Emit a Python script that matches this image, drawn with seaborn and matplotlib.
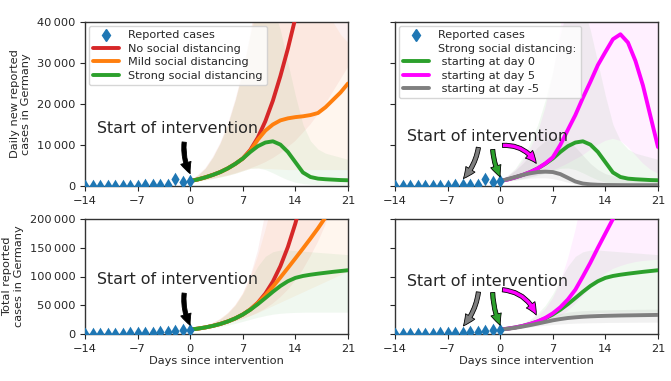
import numpy as np
import pandas as pd
import matplotlib
matplotlib.use("Agg")
import matplotlib.pyplot as plt
from matplotlib.ticker import FuncFormatter, FixedLocator
from matplotlib.lines import Line2D
import seaborn as sns

# ---------------- data ----------------
obs_days = list(range(-14, 1))
obs_daily = [10, 20, 30, 40, 50, 60, 80, 100, 130, 150, 200, 300, 1700, 1000, 1200]
obs_total = [150, 200, 260, 400, 530, 800, 1000, 1200, 1600, 2300, 3000, 3800, 5500, 6500, 7800]

model_days = list(range(0, 22))

# daily new cases (median)
green_daily = [1200, 1600, 2100, 2700, 3400, 4300, 5400, 6700, 8300, 9700, 10600, 10900,
               10100, 8300, 5800, 3300, 2200, 1800, 1650, 1550, 1450, 1400]
red_daily = [1200, 1600, 2100, 2700, 3400, 4300, 5400, 6700, 8800, 11800, 15800, 20800,
             26800, 33500, 41000, 50000, 60000, 72000, 85000, 100000, 118000, 138000]
orange_daily = [1200, 1600, 2100, 2700, 3400, 4300, 5400, 6700, 8600, 11300, 13500, 15000,
                16000, 16500, 16800, 17000, 17300, 17800, 19200, 21000, 22800, 25000]
magenta_daily = [1200, 1600, 2100, 2700, 3400, 4300, 5500, 7000, 10000, 13700, 17300, 21500,
                 25400, 29500, 32700, 35800, 37000, 35000, 30500, 24500, 17000, 9500]
gray_daily = [1200, 1700, 2200, 2700, 3100, 3400, 3500, 3400, 2900, 2000, 1100, 600,
              400, 300, 250, 230, 210, 200, 200, 200, 200, 200]

# daily credible intervals
red_daily_lo = [1000, 1200, 1500, 1800, 2200, 2600, 3100, 3700, 4300, 5000, 5800, 6800,
                8000, 9500, 11000, 13000, 15000, 17500, 20000, 23000, 26000, 29000]
red_daily_hi = [1400, 2600, 4300, 7000, 10500, 15000, 21000, 28000, 37000, 48000, 62000, 80000,
                100000, 120000, 140000, 160000, 180000, 200000, 220000, 240000, 260000, 280000]
orange_daily_lo = [1000, 1200, 1500, 1800, 2200, 2600, 3100, 3700, 4300, 4400, 4300, 4200,
                   4100, 4000, 4000, 4000, 4000, 4000, 4000, 4000, 4000, 4000]
orange_daily_hi = [1400, 2600, 4300, 7000, 10500, 15000, 21000, 28000, 37000, 48000, 55000, 58000,
                   60000, 60000, 58000, 55000, 52000, 48000, 44000, 40000, 37000, 35000]
green_daily_lo = [1000, 1200, 1500, 1800, 2200, 2600, 3100, 3700, 4300, 4400, 4000, 3200,
                  2300, 1500, 900, 600, 400, 300, 250, 200, 200, 200]
green_daily_hi = [1400, 2600, 4300, 7000, 10500, 15000, 21000, 28000, 37000, 44000, 46000, 44000,
                  38000, 30000, 22000, 15000, 11000, 9000, 8000, 7500, 7000, 6500]
magenta_daily_lo = [1000, 1200, 1500, 1800, 2200, 2600, 3100, 3800, 4600, 5500, 6500, 7500,
                    8800, 10000, 11000, 11500, 11000, 9500, 7500, 5500, 4000, 3000]
magenta_daily_hi = [1400, 2400, 3800, 6000, 9000, 13000, 19000, 27000, 38000, 50000, 60000, 70000,
                    80000, 90000, 95000, 95000, 95000, 95000, 95000, 95000, 95000, 95000]
gray_daily_lo = [1000, 1200, 1400, 1700, 1900, 2000, 2000, 1800, 1400, 900, 500, 250,
                 150, 100, 80, 70, 60, 60, 60, 60, 60, 60]
gray_daily_hi = [1400, 2400, 3800, 5500, 7500, 9500, 11000, 12000, 12000, 11000, 9500, 7500,
                 5500, 4000, 3000, 2500, 2000, 1800, 1600, 1500, 1400, 1400]

# total cases (median)
green_total = [7700, 9300, 11400, 14100, 17500, 21800, 27200, 33900, 42200, 51900, 62500, 73400,
               83500, 91800, 97600, 100900, 103100, 104900, 106500, 108100, 109500, 110900]
red_total = [7700, 9300, 11400, 14100, 17500, 21800, 27200, 33900, 42700, 54500, 70300, 91100,
             117900, 151400, 192400, 242400, 302400, 374400, 459400, 559400, 677400, 815400]
orange_total = [7700, 9300, 11400, 14100, 17500, 21800, 27200, 33900, 42500, 53800, 67300, 82300,
                98300, 114800, 131600, 148600, 165900, 183700, 202900, 223900, 246700, 271700]
magenta_total = [7700, 9300, 11400, 14100, 17500, 22000, 28000, 36000, 46500, 60000, 77000, 100000,
                 124000, 150000, 175000, 200000, 235000, 268000, 298000, 322000, 338000, 347000]
gray_total = [7700, 9000, 10800, 13000, 15500, 18200, 21000, 23800, 26000, 27800, 29000, 30000,
              30700, 31200, 31600, 31900, 32200, 32400, 32600, 32800, 33000, 33200]

# total credible intervals
red_total_lo = [7500, 9000, 10800, 13000, 15500, 18500, 22000, 26000, 31000, 37000, 44000, 53000,
                64000, 77000, 93000, 112000, 135000, 160000, 190000, 225000, 265000, 310000]
red_total_hi = [8000, 10500, 14000, 19000, 26000, 36000, 50000, 70000, 100000, 145000, 210000, 300000,
                400000, 500000, 600000, 700000, 800000, 900000, 1000000, 1100000, 1200000, 1300000]
orange_total_lo = [7500, 9000, 10800, 13000, 15500, 18500, 22000, 26000, 31000, 36000, 42000, 48000,
                   54000, 60000, 66000, 72000, 78000, 84000, 90000, 96000, 102000, 108000]
orange_total_hi = [8000, 10500, 14000, 19000, 26000, 36000, 50000, 70000, 98000, 135000, 180000, 230000,
                   280000, 330000, 380000, 430000, 480000, 530000, 580000, 630000, 680000, 730000]
green_total_lo = [7000, 8000, 9500, 11000, 13000, 15500, 18500, 22000, 25500, 29000, 32000, 34500,
                  36000, 37000, 37500, 37800, 38000, 38000, 38000, 38000, 38000, 38000]
green_total_hi = [8500, 10500, 14000, 19000, 26000, 36000, 50000, 70000, 95000, 118000, 135000, 143000,
                  146000, 146000, 145000, 144000, 143000, 142000, 141000, 140000, 139000, 138000]
magenta_total_lo = [7000, 8000, 9500, 11000, 13000, 15500, 19000, 24000, 31000, 40000, 52000, 66000,
                    80000, 94000, 105000, 113000, 118000, 122000, 125000, 127000, 128000, 129000]
magenta_total_hi = [8500, 10500, 13500, 17500, 23000, 31000, 43000, 62000, 90000, 130000, 180000, 240000,
                    310000, 390000, 470000, 550000, 630000, 700000, 760000, 810000, 850000, 880000]
gray_total_lo = [7000, 8000, 9300, 10800, 12300, 13800, 15200, 16500, 17500, 18300, 18900, 19300,
                 19600, 19800, 20000, 20100, 20200, 20300, 20400, 20500, 20600, 20700]
gray_total_hi = [8500, 10200, 12500, 15500, 19000, 23000, 27500, 32000, 35500, 38000, 39500, 40500,
                 41200, 41700, 42000, 42300, 42500, 42700, 42900, 43000, 43100, 43200]

xticks = [-14, -7, 0, 7, 14, 21]

C_BLUE = "#1f77b4"
C_RED = "#d62728"
C_ORANGE = "#ff7f0e"
C_GREEN = "#2ca02c"
C_MAG = "#ff00ff"
C_GRAY = "#7f7f7f"

# ---------------- figure ----------------
sns.set_style("ticks")
plt.rcParams["font.family"] = ["DejaVu Sans"]
plt.rcParams["axes.edgecolor"] = "#333333"

fig = plt.figure(figsize=(6.71, 3.81), dpi=100)
W, H = 671.0, 381.0


def add_ax(l, r, t, b):
    return fig.add_axes([l / W, 1 - b / H, (r - l) / W, (b - t) / H])


ax_tl = add_ax(85, 348, 22, 186)
ax_tr = add_ax(395, 658, 22, 186)
ax_bl = add_ax(85, 348, 219, 334)
ax_br = add_ax(395, 658, 219, 334)

fmt = FuncFormatter(lambda v, p: f"{int(round(v)):,}".replace(",", "\u2009"))

BAND_A = 0.065
LW = 2.8
FS_TICK = 8.2


def band(ax, lo, hi, color, a=BAND_A):
    ax.fill_between(model_days, lo, hi, color=color, alpha=a, lw=0, zorder=1)


def line(ax, vals, color):
    sns.lineplot(x=model_days, y=vals, color=color, lw=LW, ax=ax, zorder=3)


def obs(ax, vals):
    sns.scatterplot(x=obs_days, y=vals, marker="d", s=48, color=C_BLUE, linewidth=0,
                    ax=ax, zorder=4)
    ax.collections[-1].set_clip_on(True)
    ax.collections[-1].set_clip_box(ax.bbox)


def arrow(ax, tail, head, fc, rad):
    ax.annotate("", xy=head, xytext=tail,
                arrowprops=dict(arrowstyle="simple,head_length=0.6,head_width=0.55,tail_width=0.22",
                                connectionstyle=f"arc3,rad={rad}", fc=fc, ec="black", lw=0.6,
                                mutation_scale=14, shrinkA=0, shrinkB=0),
                zorder=6)


# top-left
band(ax_tl, red_daily_lo, red_daily_hi, C_RED)
band(ax_tl, orange_daily_lo, orange_daily_hi, C_ORANGE)
band(ax_tl, green_daily_lo, green_daily_hi, C_GREEN)
line(ax_tl, red_daily, C_RED)
line(ax_tl, orange_daily, C_ORANGE)
line(ax_tl, green_daily, C_GREEN)
obs(ax_tl, obs_daily)

# top-right
band(ax_tr, green_daily_lo, green_daily_hi, C_GREEN)
band(ax_tr, magenta_daily_lo, magenta_daily_hi, C_MAG, 0.06)
band(ax_tr, gray_daily_lo, gray_daily_hi, C_GRAY, 0.1)
line(ax_tr, green_daily, C_GREEN)
line(ax_tr, magenta_daily, C_MAG)
line(ax_tr, gray_daily, C_GRAY)
obs(ax_tr, obs_daily)

# bottom-left
band(ax_bl, red_total_lo, red_total_hi, C_RED)
band(ax_bl, orange_total_lo, orange_total_hi, C_ORANGE)
band(ax_bl, green_total_lo, green_total_hi, C_GREEN)
line(ax_bl, red_total, C_RED)
line(ax_bl, orange_total, C_ORANGE)
line(ax_bl, green_total, C_GREEN)
obs(ax_bl, obs_total)

# bottom-right
band(ax_br, green_total_lo, green_total_hi, C_GREEN)
band(ax_br, magenta_total_lo, magenta_total_hi, C_MAG, 0.06)
band(ax_br, gray_total_lo, gray_total_hi, C_GRAY, 0.1)
line(ax_br, green_total, C_GREEN)
line(ax_br, magenta_total, C_MAG)
line(ax_br, gray_total, C_GRAY)
obs(ax_br, obs_total)

for ax in (ax_tl, ax_tr, ax_bl, ax_br):
    ax.set_xlim(-14, 21)
    ax.xaxis.set_major_locator(FixedLocator(xticks))
    ax.set_xticklabels([str(t).replace("-", "\u2212") for t in xticks])
    ax.tick_params(labelsize=FS_TICK, length=3.5, width=0.8)
    ax.set_xlabel("")
    ax.set_ylabel("")
    for s in ax.spines.values():
        s.set_linewidth(1.0)

for ax in (ax_tl, ax_tr):
    ax.set_ylim(0, 40000)
    ax.yaxis.set_major_locator(FixedLocator([0, 10000, 20000, 30000, 40000]))
for ax in (ax_bl, ax_br):
    ax.set_ylim(0, 200000)
    ax.yaxis.set_major_locator(FixedLocator([0, 50000, 100000, 150000, 200000]))

ax_tl.yaxis.set_major_formatter(fmt)
ax_bl.yaxis.set_major_formatter(fmt)
ax_tr.tick_params(labelleft=False)
ax_br.tick_params(labelleft=False)

ax_tl.set_ylabel("Daily new reported\ncases in Germany", fontsize=FS_TICK, labelpad=4)
ax_bl.set_ylabel("Total reported\ncases in Germany", fontsize=FS_TICK, labelpad=4)
ax_bl.set_xlabel("Days since intervention", fontsize=FS_TICK, labelpad=2)
ax_br.set_xlabel("Days since intervention", fontsize=FS_TICK, labelpad=2)

# annotations
FS_ANN = 11.4
ax_tl.text(-1.7, 14100, "Start of intervention", ha="center", va="center", fontsize=FS_ANN, zorder=6)
ax_tr.text(-1.7, 12000, "Start of intervention", ha="center", va="center", fontsize=FS_ANN, zorder=6)
ax_bl.text(-1.7, 95600, "Start of intervention", ha="center", va="center", fontsize=FS_ANN, zorder=6)
ax_br.text(-1.7, 92000, "Start of intervention", ha="center", va="center", fontsize=FS_ANN, zorder=6)

arrow(ax_tl, (-0.8, 10700), (0, 3000), "black", 0.15)
arrow(ax_bl, (-0.8, 71000), (0, 15000), "black", 0.15)

arrow(ax_tr, (-2.9, 9400), (-4.9, 1800), C_GRAY, -0.15)
arrow(ax_tr, (-1.0, 8900), (0, 2200), C_GREEN, 0.1)
arrow(ax_tr, (0.3, 9900), (4.8, 5500), C_MAG, -0.3)
arrow(ax_br, (-2.9, 73000), (-4.9, 14000), C_GRAY, -0.15)
arrow(ax_br, (-1.0, 72000), (0, 15000), C_GREEN, 0.1)
arrow(ax_br, (0.3, 77000), (4.8, 33000), C_MAG, -0.3)

# legends
FS_LEG = 8.1
h_obs = Line2D([], [], marker="d", ls="none", color=C_BLUE, markersize=6.5)
h_red = Line2D([], [], color=C_RED, lw=LW)
h_or = Line2D([], [], color=C_ORANGE, lw=LW)
h_gr = Line2D([], [], color=C_GREEN, lw=LW)
h_mg = Line2D([], [], color=C_MAG, lw=LW)
h_gy = Line2D([], [], color=C_GRAY, lw=LW)
h_blank = Line2D([], [], color="none", lw=0)

leg1 = ax_tl.legend([h_obs, h_red, h_or, h_gr],
                    ["Reported cases", "No social distancing", "Mild social distancing",
                     "Strong social distancing"],
                    loc="upper left", fontsize=FS_LEG, frameon=True, handlelength=2.3,
                    borderaxespad=0.35, labelspacing=0.3, borderpad=0.4, handletextpad=0.8)
leg1.set_zorder(10)
leg2 = ax_tr.legend([h_obs, h_blank, h_gr, h_mg, h_gy],
                    ["Reported cases", "Strong social distancing:", " starting at day 0",
                     " starting at day 5", " starting at day -5"],
                    loc="upper left", fontsize=FS_LEG, frameon=True, handlelength=2.3,
                    borderaxespad=0.35, labelspacing=0.3, borderpad=0.4, handletextpad=0.8)
leg2.set_zorder(10)

fig.savefig("out.png", dpi=100)
